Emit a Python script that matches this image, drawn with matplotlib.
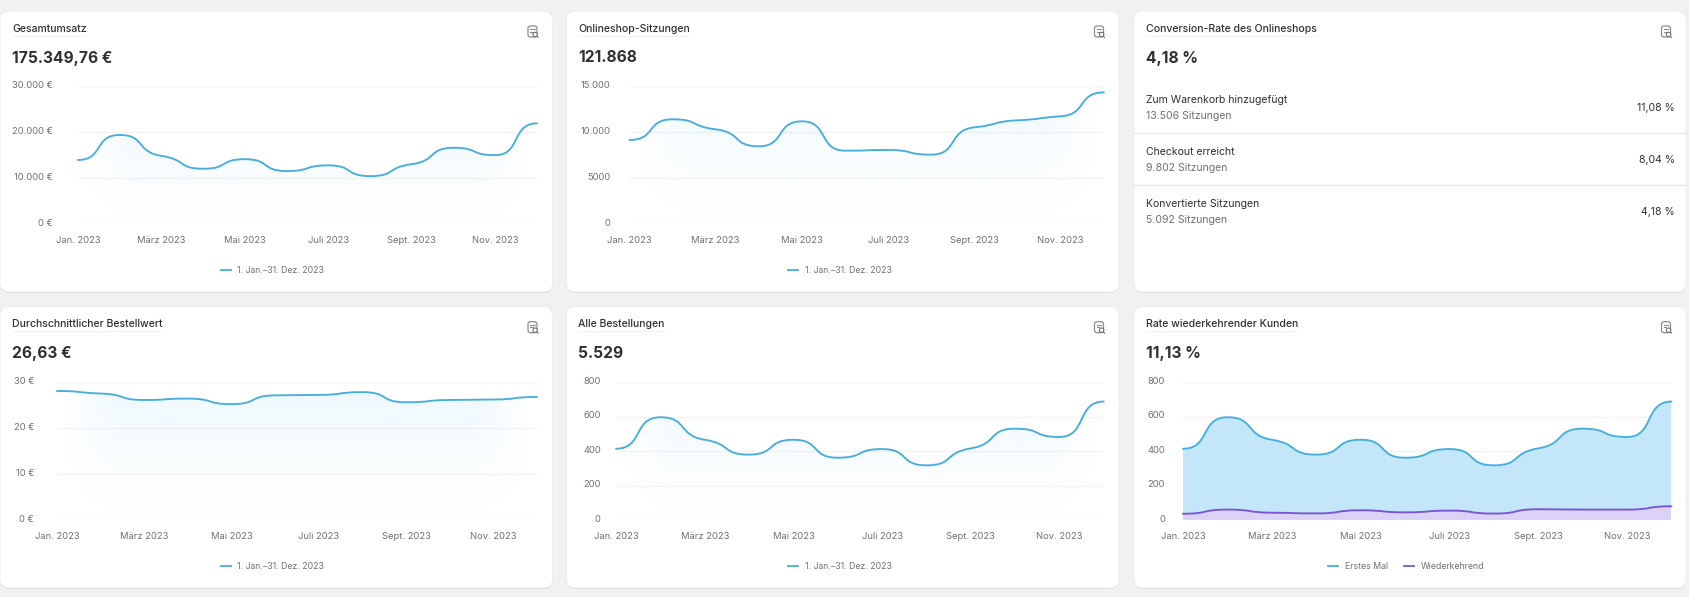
"""Dashboard mit sechs Kennzahlen-Karten (Gesamtumsatz, Sitzungen, Bestellungen ...)."""
import matplotlib
matplotlib.use("Agg")
import matplotlib.pyplot as plt
import numpy as np
from matplotlib.patches import Circle, FancyBboxPatch, PathPatch
from matplotlib.path import Path
from matplotlib.transforms import ScaledTranslation

plt.rcParams["font.family"] = ["Inter", "DejaVu Sans"]

WIDTH, HEIGHT = 1689, 597
BLUE = "#46aede"
PURPLE = "#7a54d6"
HANDLE = 0.62

month_ticks = [0, 2, 4, 6, 8, 10]
month_labels = ["Jan. 2023", "März 2023", "Mai 2023", "Juli 2023", "Sept. 2023", "Nov. 2023"]

umsatz = [13950, 19380, 14850, 12050, 14120, 11550, 12780, 10450, 13050, 16600, 15000, 21900]
sitzungen = [9145, 11386, 10301, 8458, 11169, 7988, 8060, 7554, 10518, 11277, 11711, 14301]
bestellwert = [28.05, 27.5, 26.1, 26.4, 25.2, 27.1, 27.2, 27.8, 25.6, 26.1, 26.2, 26.75]
bestellungen = [414, 596, 466, 380, 466, 362, 412, 318, 416, 530, 482, 687]
erstes_mal = [414, 596, 466, 380, 466, 362, 412, 318, 416, 530, 482, 687]
wiederkehrend = [38, 62, 44, 40, 58, 46, 56, 39, 64, 62, 62, 81]

umsatz_ticks = [0, 10000, 20000, 30000]
umsatz_labels = ["0 €", "10.000 €", "20.000 €", "30.000 €"]
sitzungen_ticks = [0, 5000, 10000, 15000]
sitzungen_labels = ["0", "5000", "10.000", "15.000"]
wert_ticks = [0, 10, 20, 30]
wert_labels = ["0 €", "10 €", "20 €", "30 €"]
order_ticks = [0, 200, 400, 600, 800]
order_labels = ["0", "200", "400", "600", "800"]

funnel_names = ["Zum Warenkorb hinzugefügt", "Checkout erreicht", "Konvertierte Sitzungen"]
funnel_counts = ["13.506 Sitzungen", "9.802 Sitzungen", "5.092 Sitzungen"]
funnel_rates = ["11,08 %", "8,04 %", "4,18 %"]

period_label = "1. Jan.–31. Dez. 2023"


def smooth_path(values, baseline=None):
    """Bezier durch die Monatswerte, flach an den Punkten wie im Original."""
    y = np.asarray(values, dtype=float)
    x = np.arange(len(y), dtype=float)
    secant = np.diff(y)
    slope = np.zeros(len(y))
    for i in range(1, len(y) - 1):
        if secant[i - 1] * secant[i] > 0:
            slope[i] = 2 * secant[i - 1] * secant[i] / (secant[i - 1] + secant[i])
    slope *= 0.4
    verts = [(x[0], y[0])]
    codes = [Path.MOVETO]
    for i in range(len(y) - 1):
        verts += [
            (x[i] + HANDLE, y[i] + HANDLE * slope[i]),
            (x[i + 1] - HANDLE, y[i + 1] - HANDLE * slope[i + 1]),
            (x[i + 1], y[i + 1]),
        ]
        codes += [Path.CURVE4] * 3
    if baseline is not None:
        verts += [(x[-1], baseline), (x[0], baseline), (x[0], y[0])]
        codes += [Path.LINETO, Path.LINETO, Path.CLOSEPOLY]
    return Path(verts, codes)


def add_line(axis, values, color, label):
    patch = PathPatch(smooth_path(values), fill=False, edgecolor=color, linewidth=1.35,
                      clip_on=False, capstyle="round", zorder=4)
    axis.add_patch(patch)
    return axis.plot([], [], color=color, linewidth=1.3, label=label)[0]


def add_fade(axis, values, top):
    """Blasser Verlauf unter der Linie, zu den Rändern hin auslaufend."""
    rows, cols = 200, 300
    peak = max(values)
    fade_y = np.clip(np.linspace(1, 0, rows) * top / peak, 0, 1)[:, None] ** 1.4
    edge = np.clip(np.minimum(np.linspace(0, 1, cols), np.linspace(1, 0, cols)) / 0.13, 0, 1)
    fade_x = (edge * edge * (3 - 2 * edge))[None, :]
    image = np.zeros((rows, cols, 4))
    image[..., :3] = matplotlib.colors.to_rgb("#55c0f0")
    image[..., 3] = 0.10 * fade_y * fade_x
    picture = axis.imshow(image, extent=(0, 11, 0, top), aspect="auto", origin="upper", zorder=1)
    clip = PathPatch(smooth_path(values, baseline=0), transform=axis.transData,
                     facecolor="none", edgecolor="none")
    axis.add_patch(clip)
    picture.set_clip_path(clip)


def add_chart(figure, board, box, ticks, labels, pad, legend_x, series):
    left, right, top, bottom = box
    axis = figure.add_axes([left / WIDTH, 1 - bottom / HEIGHT, (right - left) / WIDTH, (bottom - top) / HEIGHT])
    axis.patch.set_alpha(0)
    axis.set_xlim(0, 11)
    axis.set_ylim(0, ticks[-1])
    axis.set_xticks(month_ticks, month_labels)
    axis.set_yticks(ticks, labels)
    axis.tick_params(axis="both", length=0, labelsize=6.75, labelcolor="#6d7175")
    axis.tick_params(axis="x", pad=8.5)
    axis.tick_params(axis="y", pad=pad)
    lift = ScaledTranslation(0, 1.3 / 72, figure.dpi_scale_trans)
    for tick_label in axis.get_yticklabels():
        tick_label.set_transform(tick_label.get_transform() + lift)
    axis.grid(axis="y", color="#f3f3f4", linewidth=1)
    axis.set_axisbelow(True)
    for spine in axis.spines.values():
        spine.set_visible(False)
    handles = []
    if len(series) == 1:
        values, color, label = series[0]
        add_fade(axis, values, ticks[-1])
        handles.append(add_line(axis, values, color, label))
    else:
        for (values, color, label), fill in zip(series, ("#c3e7f9", "#dcd1f6")):
            area = PathPatch(smooth_path(values, baseline=0), facecolor=fill, edgecolor="none", zorder=2)
            axis.add_patch(area)
            handles.append(add_line(axis, values, color, label))
    axis.legend(handles=handles, loc="center", bbox_to_anchor=(legend_x, bottom + 46.3),
                bbox_transform=board.transData, frameon=False, ncol=len(handles), fontsize=6.3,
                labelcolor="#6d7175", handlelength=1.15, handletextpad=0.75, columnspacing=1.8,
                borderpad=0, borderaxespad=0)
    return axis


def add_card(board, left, right, top, bottom, title, number):
    shadow = FancyBboxPatch((left, top + 1), right - left, bottom - top, boxstyle="round,pad=0,rounding_size=9",
                            facecolor="#dcdcdc", edgecolor="none")
    card = FancyBboxPatch((left, top), right - left, bottom - top, boxstyle="round,pad=0,rounding_size=9",
                          facecolor="white", edgecolor="#ececec", linewidth=0.6)
    board.add_patch(shadow)
    board.add_patch(card)
    title_text = board.text(left + 12, top + 17.5, title, fontsize=7.55, fontweight="medium", color="#303030", va="center")
    board.text(left + 12, top + 47, number, fontsize=11.2, fontweight="bold", color="#303030", va="center")
    extent = title_text.get_window_extent(board.figure.canvas.get_renderer())
    board.plot([left + 12, left + 12 + extent.width], [top + 24.5] * 2, color="#d9dbdd", linewidth=0.6, linestyle=(0, (1, 1.5)))
    # kleines Symbol oben rechts
    icon_x, icon_y = right - 20, top + 20.5
    board.add_patch(FancyBboxPatch((icon_x - 4.5, icon_y - 5.5), 9, 11, boxstyle="round,pad=0,rounding_size=2.5",
                                   facecolor="none", edgecolor="#8a8d91", linewidth=0.9))
    board.plot([icon_x - 2.2, icon_x + 2.2], [icon_y - 2.2, icon_y - 2.2], color="#8a8d91", linewidth=0.8)
    board.plot([icon_x - 2.2, icon_x + 0.5], [icon_y, icon_y], color="#8a8d91", linewidth=0.8)
    board.add_patch(Circle((icon_x + 2.6, icon_y + 3), 2.2, facecolor="white", edgecolor="#6d7175", linewidth=0.8, zorder=3))
    board.plot([icon_x + 4.2, icon_x + 5.6], [icon_y + 4.6, icon_y + 6], color="#6d7175", linewidth=0.8)


def main():
    figure = plt.figure(figsize=(WIDTH / 100, HEIGHT / 100), dpi=100, facecolor="#f1f1f1")
    board = figure.add_axes([0, 0, 1, 1])
    board.set_xlim(0, WIDTH)
    board.set_ylim(HEIGHT, 0)
    board.axis("off")
    figure.canvas.draw()

    add_card(board, 0, 552.5, 11, 292, "Gesamtumsatz", "175.349,76 €")
    add_card(board, 566.5, 1119, 11, 292, "Onlineshop-Sitzungen", "121.868")
    add_card(board, 1134, 1686, 11, 292, "Conversion-Rate des Onlineshops", "4,18 %")
    add_card(board, 0, 552.5, 306.7, 588, "Durchschnittlicher Bestellwert", "26,63 €")
    add_card(board, 566.5, 1119, 306.7, 588, "Alle Bestellungen", "5.529")
    add_card(board, 1134, 1686, 306.7, 588, "Rate wiederkehrender Kunden", "11,13 %")

    add_chart(figure, board, (77.9, 537, 86, 224.3), umsatz_ticks, umsatz_labels, 18,
              272.5, [(umsatz, BLUE, period_label)])
    add_chart(figure, board, (629.4, 1103.8, 86, 224.3), sitzungen_ticks, sitzungen_labels, 13.5,
              839.7, [(sitzungen, BLUE, period_label)])
    add_chart(figure, board, (57, 537, 382, 520.3), wert_ticks, wert_labels, 16.5,
              272.5, [(bestellwert, BLUE, period_label)])
    add_chart(figure, board, (616, 1103.8, 382, 520.3), order_ticks, order_labels, 11,
              839.7, [(bestellungen, BLUE, period_label)])
    add_chart(figure, board, (1183, 1671.5, 382, 520.3), order_ticks, order_labels, 13,
              1406, [(erstes_mal, BLUE, "Erstes Mal"), (wiederkehrend, PURPLE, "Wiederkehrend")])

    # Trichter der Conversion-Karte
    for row, (name, count, rate) in enumerate(zip(funnel_names, funnel_counts, funnel_rates)):
        offset = row * 52
        board.text(1146, 100 + offset, name, fontsize=7.55, color="#303030", va="center")
        board.text(1146, 116 + offset, count, fontsize=7.55, color="#6d7175", va="center")
        board.text(1675, 108 + offset, rate, fontsize=7.55, color="#303030", va="center", ha="right")
        if row < 2:
            board.plot([1134, 1686], [133.3 + offset] * 2, color="#e6e6e6", linewidth=0.9)

    figure.savefig("out.png", dpi=100, facecolor=figure.get_facecolor())
    plt.close(figure)


if __name__ == "__main__":
    main()
